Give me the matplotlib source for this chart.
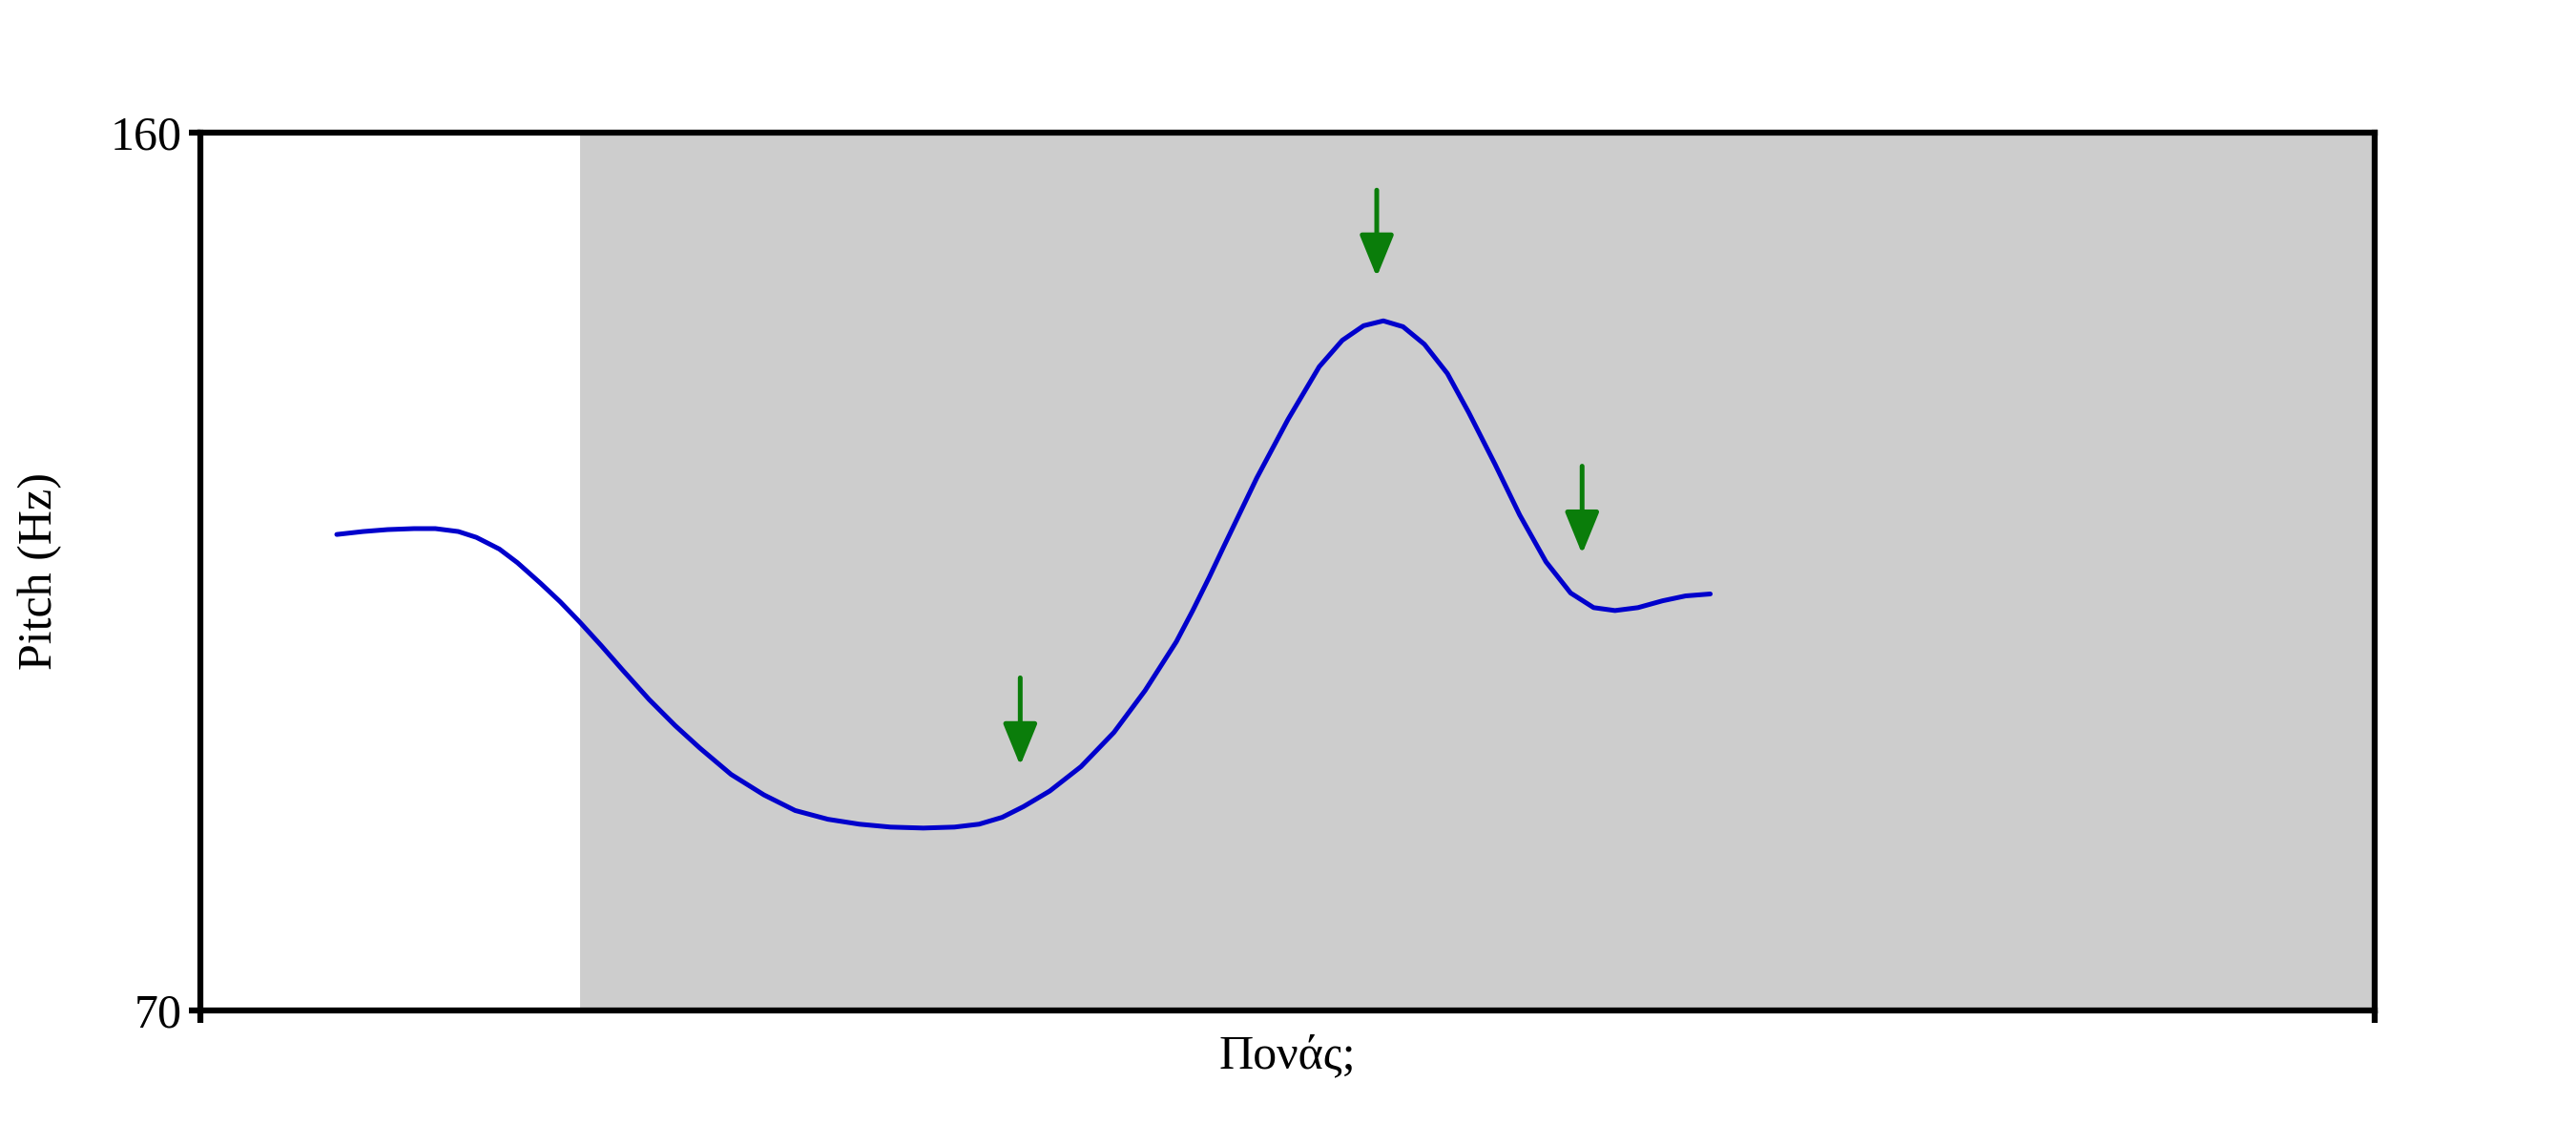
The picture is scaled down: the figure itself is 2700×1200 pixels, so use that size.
import numpy as np
import matplotlib
matplotlib.use("Agg")
import matplotlib.pyplot as plt

# time (s) and pitch (Hz) of the contour
time = [0.083, 0.099, 0.114, 0.130, 0.143, 0.157, 0.168, 0.182, 0.193, 0.207,
        0.219, 0.231, 0.244, 0.257, 0.273, 0.289, 0.304, 0.323, 0.343, 0.362,
        0.382, 0.401, 0.420, 0.440, 0.459, 0.474, 0.488, 0.501, 0.517, 0.536,
        0.556, 0.575, 0.594, 0.604, 0.614, 0.623, 0.643, 0.662, 0.681, 0.695,
        0.708, 0.720, 0.732, 0.745, 0.759, 0.772, 0.788, 0.803, 0.819, 0.834,
        0.848, 0.861, 0.875, 0.890, 0.904, 0.919]
pitch = [118.8, 119.1, 119.3, 119.4, 119.4, 119.1, 118.5, 117.3, 115.9, 113.8,
         111.9, 109.8, 107.4, 104.9, 101.9, 99.2, 96.9, 94.2, 92.1, 90.5,
         89.6, 89.1, 88.8, 88.7, 88.8, 89.1, 89.8, 90.9, 92.5, 95.0,
         98.5, 102.8, 107.8, 111.0, 114.4, 117.6, 124.6, 130.6, 136.0, 138.7,
         140.2, 140.7, 140.1, 138.3, 135.3, 131.3, 126.0, 120.8, 116.0, 112.8,
         111.3, 111.0, 111.3, 112.0, 112.5, 112.7]

# arrows: x, start y, tip y
arrow_x = [0.499, 0.716, 0.841]
arrow_top = [104.1, 154.1, 125.8]
arrow_tip = [95.1, 145.2, 116.8]

shade_start = 0.231
x_end = 1.3235
y_min, y_max = 70, 160
xlabel = "Πονάς;"
ylabel = "Pitch (Hz)"

plt.rcParams['font.family'] = ['Liberation Serif', 'DejaVu Serif']

fig = plt.figure(figsize=(27, 12), dpi=100)
ax = fig.add_axes([0.0778, 0.1175, 0.8441, 0.7667])

ax.axvspan(shade_start, x_end, color='#cdcdcd', lw=0, zorder=0)
ax.plot(time, pitch, color='#0000cc', lw=3.6, zorder=3,
        solid_capstyle='round', solid_joinstyle='round')

for x, y0, y1 in zip(arrow_x, arrow_top, arrow_tip):
    ax.annotate("", xy=(x, y1), xytext=(x, y0),
                arrowprops=dict(arrowstyle='-|>,head_length=2.7,head_width=1.1',
                                color='#0a7d0a', lw=3.6, shrinkA=0, shrinkB=0,
                                capstyle='round'),
                zorder=4)

ax.set_xlim(0, x_end)
ax.set_ylim(y_min, y_max)
ax.set_yticks([y_min, y_max])
ax.set_yticklabels([str(y_min), str(y_max)], fontsize=36)
ax.set_xticks([0, x_end])
ax.set_xticklabels(["", ""])
ax.tick_params(axis='both', width=4.5, length=9, pad=5, color='black')

for s in ax.spines.values():
    s.set_linewidth(4.5)
    s.set_color('black')

ax.set_xlabel(xlabel, fontsize=36, labelpad=4)
ax.set_ylabel(ylabel, fontsize=36, labelpad=36)

fig.savefig("out.png", dpi=100)
